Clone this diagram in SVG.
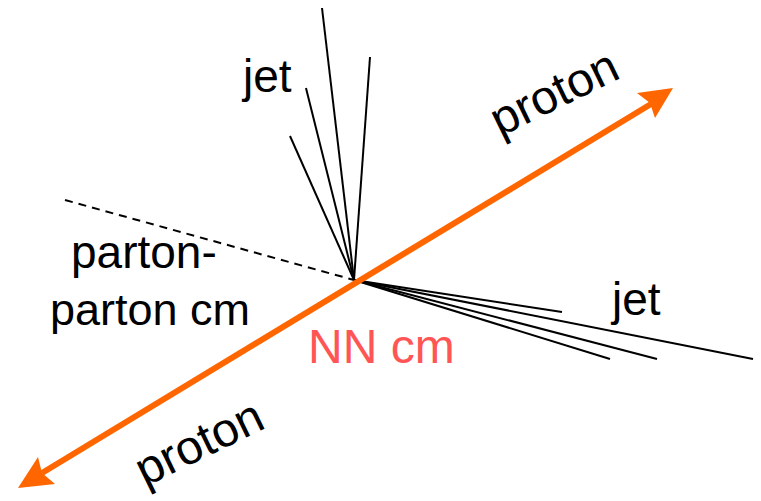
<svg xmlns="http://www.w3.org/2000/svg" width="761" height="501" viewBox="0 0 761 501">
<style>
.t{font-family:"Liberation Sans",Arial,sans-serif;font-size:46px;fill:#000}
.p{font-size:48px}
.j{stroke:#000;stroke-width:2;fill:none}
.beam{stroke:#FF6600;stroke-width:6;fill:none}
.head{fill:#FF6600}
</style>
<rect width="761" height="501" fill="#fff"/>
<g id="connectors">
<line x1="65" y1="200" x2="354" y2="280" stroke="#000" stroke-width="2" stroke-dasharray="8,6"/>
<line class="j" x1="354" y1="280" x2="322" y2="8"/>
<line class="j" x1="354" y1="280" x2="370" y2="57"/>
<line class="j" x1="354" y1="280" x2="306" y2="88"/>
<line class="j" x1="354" y1="280" x2="290" y2="136"/>
<line class="j" x1="354" y1="280" x2="562" y2="312"/>
<line class="j" x1="354" y1="280" x2="610" y2="359"/>
<line class="j" x1="354" y1="280" x2="657" y2="359"/>
<line class="j" x1="354" y1="280" x2="753" y2="359"/>
<line class="beam" x1="42" y1="473" x2="651" y2="104"/>
<polygon class="head" points="673,88 637,93 650,103 655,118"/>
<polygon class="head" points="18,488 38,457 42,473 55,484"/>
</g>
<g id="labels">
<text class="t" x="243" y="92">jet</text>
<text class="t" x="612" y="315">jet</text>
<text class="t" x="71" y="268">parton-</text>
<text class="t" x="50" y="325" style="font-size:45px">parton cm</text>
<text class="t" x="308" y="363" style="fill:#FF5555;font-size:48px">NN cm</text>
<text class="t p" transform="translate(500,137) rotate(-26)">proton</text>
<text class="t p" transform="translate(145,487) rotate(-26)">proton</text>
</g>
</svg>
